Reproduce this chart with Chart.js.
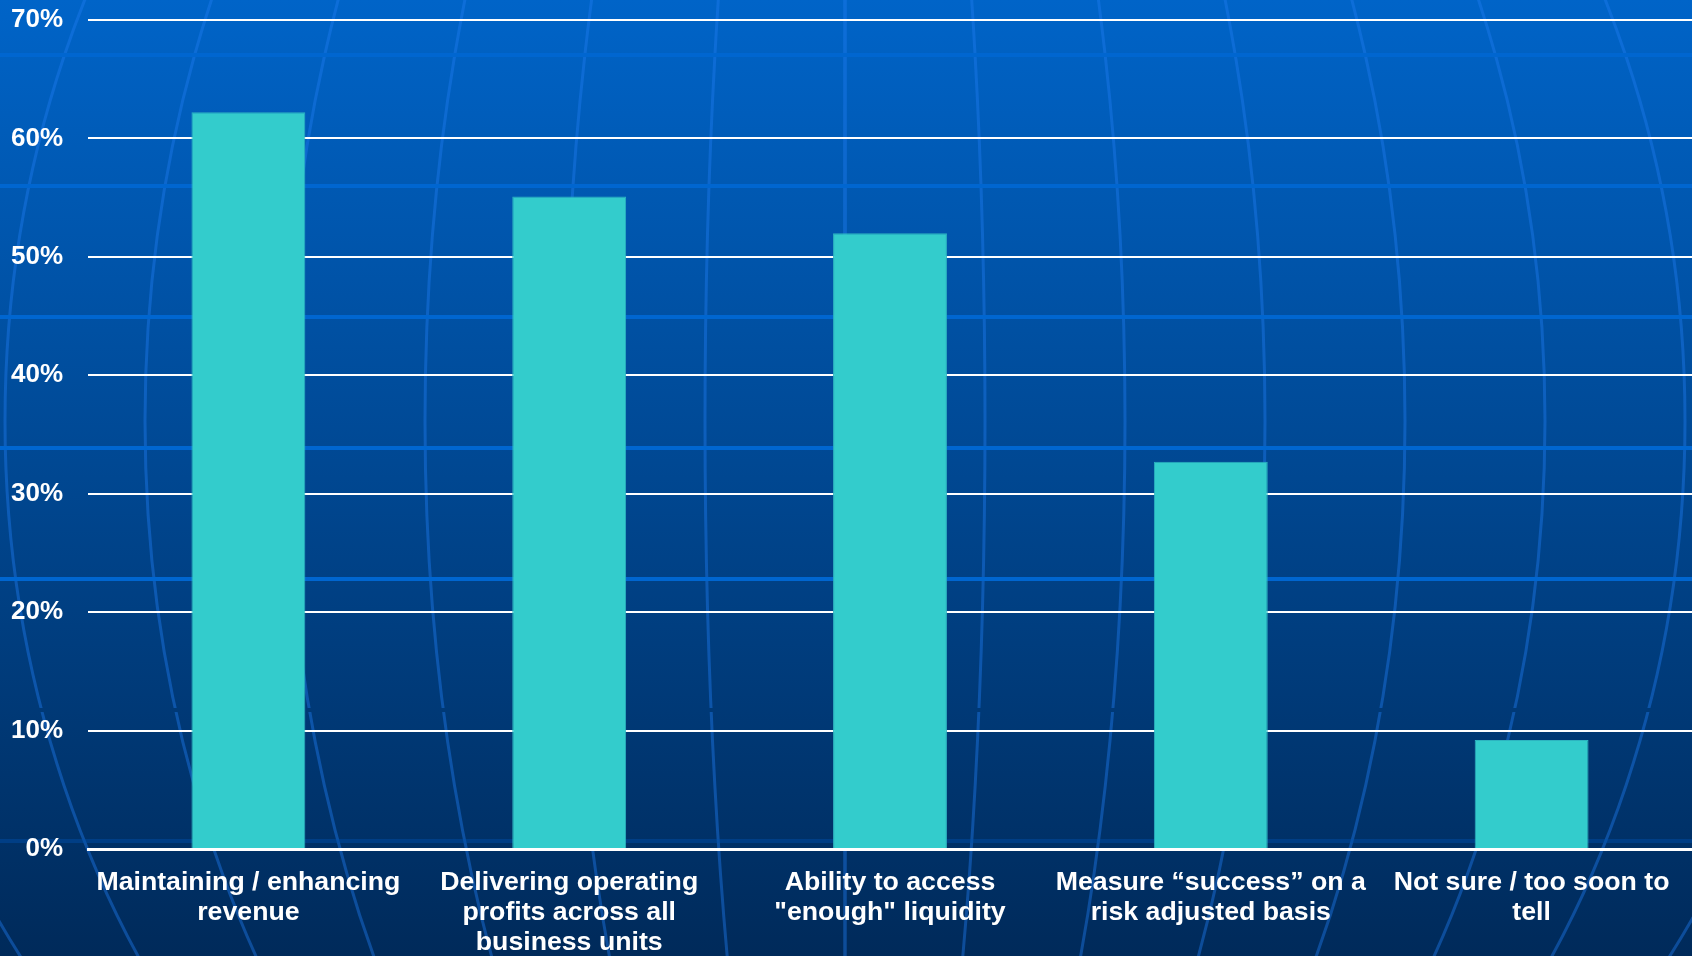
<!DOCTYPE html>
<html>
<head>
<meta charset="utf-8">
<title>Success measures</title>
<script src="https://cdn.jsdelivr.net/npm/chart.js@4.4.1/dist/chart.umd.min.js"></script>
<style>
  html, body { margin: 0; padding: 0; background: #00458e; }
  #wrap { width: 1692px; height: 956px; position: relative; }
</style>
</head>
<body>
<div id="wrap"><canvas id="successChart"></canvas></div>
<script>
// survey answers, one bar each
const categories = [
    ['Maintaining / enhancing', 'revenue'],
    ['Delivering operating', 'profits across all', 'business units'],
    ['Ability to access', '"enough" liquidity'],
    ['Measure \u201csuccess\u201d on a', 'risk adjusted basis'],
    ['Not sure / too soon to', 'tell']
];
const shares = [62.2, 55.1, 52.0, 32.7, 9.2];   // percent of respondents
const axisMax = 70;
const axisStep = 10;

const fontFamily = '"Liberation Sans", Arial, sans-serif';

// globe style backdrop: blue gradient, meridians and parallels
const globeBackdrop = {
    id: 'globeBackdrop',
    beforeDraw(chart) {
        const ctx = chart.ctx;
        const w = chart.width, h = chart.height;
        ctx.save();
        const grad = ctx.createLinearGradient(0, 0, 0, h);
        grad.addColorStop(0, '#0064c8');
        grad.addColorStop(1, '#002a5a');
        ctx.fillStyle = grad;
        ctx.fillRect(0, 0, w, h);

        ctx.strokeStyle = 'rgba(30,125,240,0.42)';
        ctx.lineWidth = 3;
        for (let k = 0; k <= 7; k++) {
            ctx.beginPath();
            ctx.ellipse(845, 421, Math.max(k * 140, 0.5), 990, 0, 0, Math.PI * 2);
            ctx.stroke();
        }

        const bandColors = ['#0066d0', '#0066d0', '#0066d0', '#0066d0', '#0066d0', grad, 'rgba(0,80,170,0.45)'];
        bandColors.forEach((c, i) => {
            ctx.fillStyle = c;
            ctx.fillRect(0, 53 + i * 131, w, 4);
        });
        ctx.restore();
    }
};

const ctx = document.getElementById('successChart').getContext('2d');
const successChart = new Chart(ctx, {
    type: 'bar',
    data: {
        labels: categories,
        datasets: [{
            data: shares,
            backgroundColor: '#33cccc',
            borderColor: '#2db4c0',
            borderWidth: 1,
            barPercentage: 0.355,
            categoryPercentage: 1.0
        }]
    },
    options: {
        responsive: true,
        maintainAspectRatio: false,
        animation: false,
        layout: { padding: { top: 20, left: 0, right: 0, bottom: 0 } },
        plugins: {
            legend: { display: false },
            tooltip: { enabled: false }
        },
        scales: {
            x: {
                grid: { display: false, drawTicks: false },
                border: { display: true, color: '#ffffff', width: 3 },
                ticks: {
                    color: '#ffffff',
                    font: { family: fontFamily, size: 26.7, weight: 'bold', lineHeight: 1.12 },
                    padding: 19,
                    maxRotation: 0,
                    autoSkip: false
                },
                afterFit(scale) { scale.height = 107; }
            },
            y: {
                min: 0,
                max: axisMax,
                grid: { color: '#ffffff', lineWidth: 2, drawTicks: false },
                border: { display: false },
                ticks: {
                    stepSize: axisStep,
                    color: '#ffffff',
                    font: { family: fontFamily, size: 26, weight: 'bold' },
                    padding: 25,
                    callback: (v) => v + '%'
                },
                afterFit(scale) {
                    scale.width = 88;
                    // the tick padding is horizontal only, keep it out of the top gap
                    scale.paddingTop = 16;
                    scale.paddingBottom = 16;
                }
            }
        }
    },
    plugins: [globeBackdrop]
});
</script>
</body>
</html>
